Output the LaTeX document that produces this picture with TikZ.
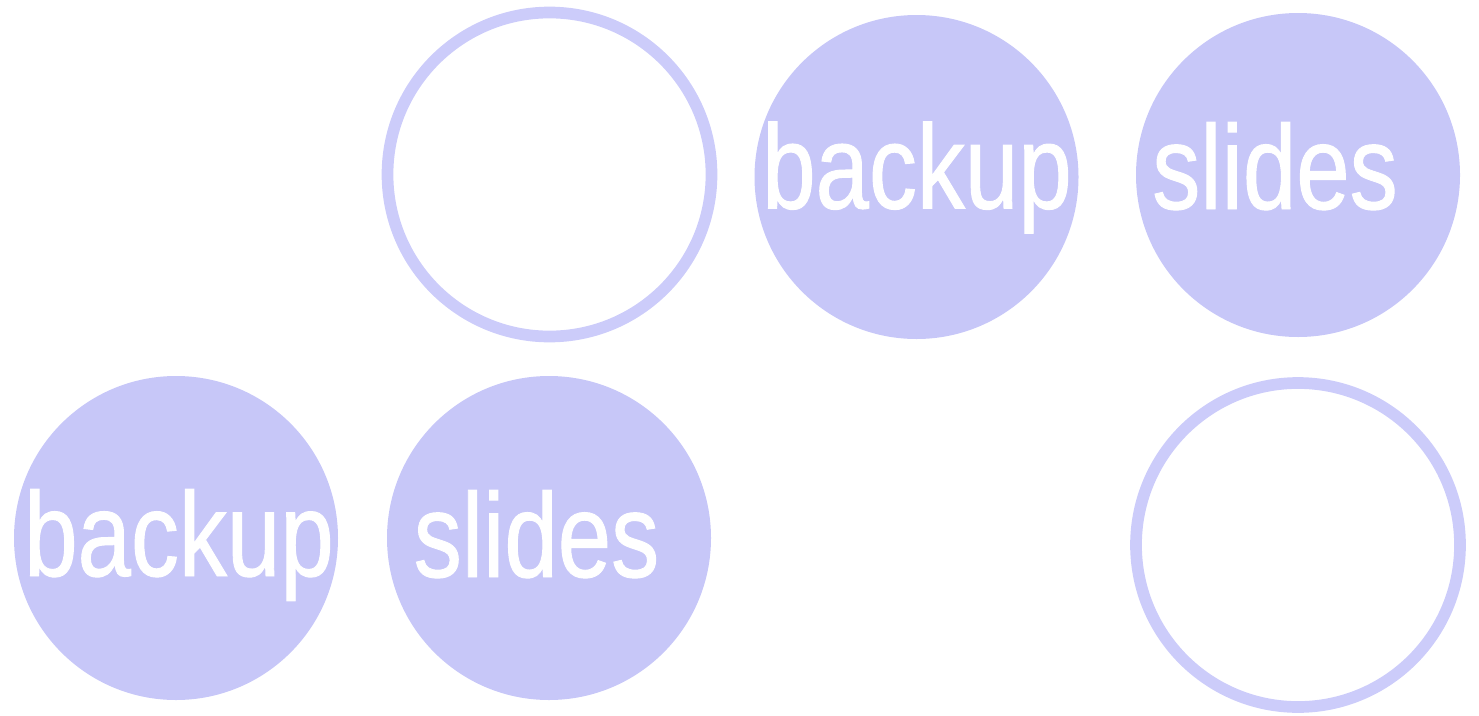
\documentclass[tikz,border=0pt]{standalone}
\usepackage{fontspec}
\newfontfamily\narrowsans[FakeStretch=0.8, FakeBold=0.8]{Liberation Sans}
\definecolor{lavender}{RGB}{199,199,248}
\definecolor{ringblue}{RGB}{204,204,250}
\begin{document}
\begin{tikzpicture}[x=1pt, y=-1pt,
  disc/.style={circle, fill=lavender, minimum size=324pt, inner sep=0pt},
  ring/.style={circle, draw=ringblue, line width=11.7pt, minimum size=324pt, inner sep=0pt},
  word/.style={anchor=base, text=white, inner sep=0pt, font=\narrowsans\fontsize{120}{144}\selectfont}]
\useasboundingbox (0,0) rectangle (1479,715);
\node[ring] (r1) at (549.5,174.5) {};
\node[disc] (b1) at (916.5,177) {};
\node[disc] (s1) at (1298,175) {};
\node[disc] (b2) at (176,538) {};
\node[disc] (s2) at (549,538) {};
\node[ring] (r2) at (1298,545) {};
\node[word] (b1t) at (917,208.5) {backup};
\node[word] (s1t) at (1275,209) {slides};
\node[word] (b2t) at (179,576) {backup};
\node[word] (s2t) at (536.5,577) {slides};
\end{tikzpicture}
\end{document}
